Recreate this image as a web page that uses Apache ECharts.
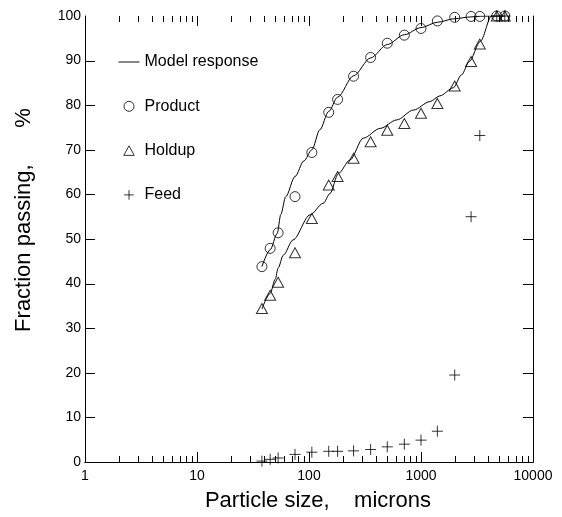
<!DOCTYPE html>
<html>
<head>
<meta charset="utf-8">
<script src="https://cdn.jsdelivr.net/npm/echarts@6/dist/echarts.min.js"></script>
<style>
  html, body { margin: 0; padding: 0; background: #fff; }
  #chart { width: 562px; height: 517px; }
</style>
</head>
<body>
<div id="chart"></div>
<script>
// sieve sizes (microns) and measured fraction passing (%)
const sizes = [38, 45, 53, 75, 106, 150, 180, 250, 355, 500, 710, 1000, 1400, 2000, 2800, 3350, 4750, 5600];
const product = [43.8, 47.9, 51.4, 59.5, 69.4, 78.4, 81.3, 86.5, 90.7, 93.9, 95.7, 97.2, 98.9, 99.7, 99.9, 99.9, 100, 100];
const holdup = [34.4, 37.4, 40.3, 46.9, 54.6, 62.1, 64.0, 68.1, 71.8, 74.4, 75.9, 78.2, 80.4, 84.3, 89.8, 93.7, 100, 100];
const feed = [0.2, 0.6, 0.9, 1.7, 2.2, 2.4, 2.4, 2.5, 2.8, 3.4, 4.0, 4.9, 6.9, 19.5, 55.0, 73.2, 100, 100];

// model response curves
const productModelX = [38, 45, 52, 56, 62, 75, 90, 106, 125, 150, 180, 250, 355, 500, 710, 1000, 1400, 2000, 2800, 3400, 4200, 5600];
const productModelY = [43.8, 47.6, 51.2, 55.5, 59.5, 64.0, 67.5, 70.0, 74.5, 78.6, 81.8, 86.6, 90.6, 93.6, 95.8, 97.4, 98.6, 99.4, 99.8, 99.95, 100, 100];
const holdupModelX = [38, 45, 50, 53, 59, 72, 102, 134, 154, 183, 232, 305, 432, 607, 855, 1200, 1475, 1940, 2300, 2700, 3380, 4270, 5600];
const holdupModelY = [34.3, 37.8, 41.0, 43.5, 46.4, 49.8, 55.4, 58.0, 60.2, 64.7, 67.7, 72.6, 74.8, 76.7, 78.9, 80.8, 82.1, 83.9, 86.8, 89.8, 94.3, 100, 100];

// tick positions
const xMajorTicks = [10, 100, 1000];
const xMinorTicks = [2, 3, 4, 5, 6, 7, 8, 9, 20, 30, 40, 50, 60, 70, 80, 90,
  200, 300, 400, 500, 600, 700, 800, 900, 2000, 3000, 4000, 5000, 6000, 7000, 8000, 9000];
const yTicks = [10, 20, 30, 40, 50, 60, 70, 80, 90];

const FONT = '"Liberation Sans", Arial, sans-serif';
const zip = (xs, ys) => xs.map((x, i) => [x, ys[i]]);
const crisp = v => Math.round(v) + 0.5;

const chart = echarts.init(document.getElementById('chart'));

const markerStyle = { color: 'rgba(0,0,0,0)', borderColor: '#000', borderWidth: 1 };
const plusIcon = 'path://M5,0V10M0,5H10';

function seg(x1, y1, x2, y2) {
  return { type: 'line', shape: { x1, y1, x2, y2 }, style: { stroke: '#000', lineWidth: 1 } };
}

const plainAxis = {
  axisLine: { show: true, lineStyle: { color: '#000', width: 1 } },
  axisTick: { show: false },
  splitLine: { show: false }
};

const option = {
  animation: false,
  grid: { left: 85, right: 29, top: 16, bottom: 55 },
  legend: {
    orient: 'vertical',
    left: 113,
    top: 49,
    itemWidth: 21,
    itemHeight: 10,
    itemGap: 28.3,
    selectedMode: false,
    itemStyle: { borderWidth: 1 },
    textStyle: { fontSize: 16, fontFamily: FONT, color: '#000' },
    data: [
      { name: 'Model response', icon: 'path://M0,0H22V1H0Z' },
      { name: 'Product', icon: 'circle' },
      { name: 'Holdup', icon: 'path://M-5.5,5M16.5,5M5.5,0L11,10L0,10Z' },
      { name: 'Feed', icon: 'path://M-6,5M16,5M5,0V10M0,5H10' }
    ]
  },
  xAxis: [
    Object.assign({
      type: 'log', logBase: 10, min: 1, max: 10000,
      axisLabel: { margin: 7, fontSize: 14, fontFamily: FONT, color: '#000',
        formatter: v => String(Math.round(v)) }
    }, plainAxis),
    Object.assign({
      type: 'log', logBase: 10, min: 1, max: 10000, position: 'top',
      axisLabel: { show: false }
    }, plainAxis)
  ],
  yAxis: [
    Object.assign({
      type: 'value', min: 0, max: 100, interval: 10,
      axisLabel: { margin: 4, fontSize: 14, fontFamily: FONT, color: '#000' }
    }, plainAxis),
    Object.assign({
      type: 'value', min: 0, max: 100, interval: 10, position: 'right',
      axisLabel: { show: false }
    }, plainAxis)
  ],
  graphic: [
    {
      type: 'text', x: 318, y: 501, silent: true,
      style: { text: 'Particle size,    microns', font: '22px ' + FONT, fill: '#000',
        align: 'center', verticalAlign: 'middle' }
    },
    {
      type: 'text', x: 24, y: 220, rotation: Math.PI / 2, silent: true,
      style: { text: 'Fraction passing,      %', font: '22px ' + FONT, fill: '#000',
        align: 'center', verticalAlign: 'middle' }
    }
  ],
  series: [
    {
      // x ticks, inward on the bottom and top frame
      type: 'custom', silent: true, clip: false,
      data: xMajorTicks.map(v => [v, 10]).concat(xMinorTicks.map(v => [v, 6])),
      renderItem: (params, api) => {
        const v = api.value(0), len = api.value(1);
        const b = api.coord([v, 0]);
        const t = api.coord([v, 100]);
        const x = crisp(b[0]);
        return { type: 'group', children: [seg(x, b[1], x, b[1] - len), seg(x, t[1], x, t[1] + len)] };
      }
    },
    {
      // y ticks, inward on the left and right frame
      type: 'custom', silent: true, clip: false,
      data: yTicks.map(v => [1, v]),
      renderItem: (params, api) => {
        const v = api.value(1);
        const l = api.coord([1, v]);
        const r = api.coord([10000, v]);
        const y = crisp(l[1]);
        return { type: 'group', children: [seg(l[0], y, l[0] + 10, y), seg(r[0], y, r[0] - 10, y)] };
      }
    },
    {
      name: 'Model response', type: 'line', showSymbol: false, symbol: 'none',
      smooth: 0.3, smoothMonotone: 'x',
      lineStyle: { color: '#000', width: 1 }, itemStyle: { color: '#000' },
      data: zip(productModelX, productModelY)
    },
    {
      name: 'Model response', type: 'line', showSymbol: false, symbol: 'none',
      smooth: 0.3, smoothMonotone: 'x',
      lineStyle: { color: '#000', width: 1 }, itemStyle: { color: '#000' },
      data: zip(holdupModelX, holdupModelY)
    },
    {
      name: 'Product', type: 'scatter', symbol: 'circle', symbolSize: 10,
      itemStyle: markerStyle, data: zip(sizes, product)
    },
    {
      name: 'Holdup', type: 'scatter', symbol: 'triangle', symbolSize: [11, 10],
      itemStyle: markerStyle, data: zip(sizes, holdup)
    },
    {
      name: 'Feed', type: 'scatter', symbol: plusIcon, symbolSize: 11,
      itemStyle: markerStyle, data: zip(sizes, feed)
    }
  ]
};

chart.setOption(option);
</script>
</body>
</html>
